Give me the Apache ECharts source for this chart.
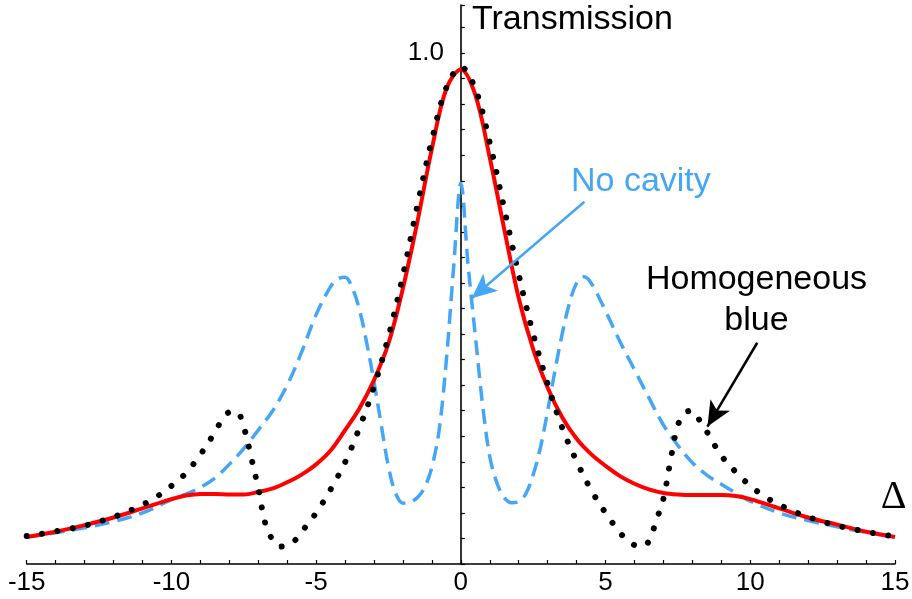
<!DOCTYPE html>
<html><head><meta charset="utf-8">
<script src="https://cdn.jsdelivr.net/npm/echarts@6/dist/echarts.min.js"></script>
<style>html,body{margin:0;padding:0;background:#fff}#c{width:912px;height:599px}</style>
</head><body><div id="c"></div>
<script>
// ---- data ----
const xTickLabels = [-15, -10, -5, 0, 5, 10, 15];
const yTickLabels = [1.0];

// red solid curve
const redCurve = [[-15,0.053],[-14,0.063],[-13,0.076],[-12,0.091],[-11,0.109],[-10,0.127],[-9.5,0.134],[-9,0.137],[-8.5,0.137],[-8,0.136],[-7.5,0.136],[-7,0.141],[-6.5,0.148],[-6,0.160],[-5.5,0.175],[-5,0.195],[-4.5,0.222],[-4,0.262],[-3.5,0.305],[-3,0.360],[-2.5,0.432],[-2,0.540],[-1.5,0.670],[-1,0.813],[-0.5,0.930],[0,0.968],[0.5,0.918],[1,0.795],[1.5,0.655],[2,0.520],[2.5,0.420],[3,0.345],[3.5,0.287],[4,0.245],[4.5,0.215],[5,0.192],[5.5,0.172],[6,0.157],[6.5,0.146],[7,0.139],[7.5,0.136],[8,0.135],[8.5,0.135],[9,0.135],[9.5,0.133],[10,0.127],[11,0.109],[12,0.091],[13,0.077],[14,0.063],[15,0.053]];

// black dotted curve ("Homogeneous blue")
const blackCurve = [[-15,0.055],[-14.5,0.059],[-14,0.064],[-13.5,0.069],[-13,0.075],[-12.5,0.083],[-12,0.092],[-11.5,0.103],[-11,0.116],[-10.5,0.132],[-10,0.153],[-9.5,0.178],[-9,0.214],[-8.5,0.258],[-8.25,0.282],[-8,0.297],[-7.75,0.298],[-7.5,0.268],[-7.25,0.210],[-7,0.148],[-6.75,0.078],[-6.5,0.047],[-6.25,0.034],[-6,0.036],[-5.75,0.045],[-5.5,0.063],[-5,0.100],[-4.5,0.146],[-4,0.199],[-3.5,0.267],[-3,0.347],[-2.5,0.445],[-2,0.565],[-1.5,0.702],[-1,0.830],[-0.5,0.932],[0,0.973],[0.5,0.930],[1,0.824],[1.5,0.695],[2,0.566],[2.5,0.450],[3,0.352],[3.5,0.267],[4,0.201],[4.5,0.145],[5,0.100],[5.5,0.061],[5.75,0.047],[6,0.037],[6.25,0.034],[6.5,0.045],[6.75,0.085],[7,0.128],[7.25,0.205],[7.5,0.272],[7.75,0.296],[8,0.300],[8.25,0.281],[8.5,0.259],[9,0.212],[9.5,0.180],[10,0.153],[10.5,0.132],[11,0.116],[11.5,0.103],[12,0.092],[12.5,0.083],[13,0.075],[13.5,0.069],[14,0.063],[14.5,0.058],[15,0.054]];

// blue dashed curve ("No cavity")
const blueCurve = [[-15,0.053],[-14,0.061],[-13,0.071],[-12,0.083],[-11,0.100],[-10,0.126],[-9.5,0.137],[-9,0.150],[-8.5,0.168],[-8,0.195],[-7.5,0.226],[-7,0.262],[-6.5,0.300],[-6,0.350],[-5.5,0.415],[-5,0.488],[-4.5,0.543],[-4.25,0.558],[-4,0.561],[-3.75,0.540],[-3.5,0.497],[-3.25,0.432],[-3,0.356],[-2.75,0.272],[-2.5,0.190],[-2.25,0.138],[-2,0.119],[-1.75,0.121],[-1.5,0.130],[-1.25,0.150],[-1,0.190],[-0.75,0.262],[-0.5,0.400],[-0.25,0.580],[0,0.745],[0.25,0.585],[0.5,0.447],[0.75,0.312],[1,0.210],[1.25,0.158],[1.5,0.130],[1.75,0.120],[2,0.122],[2.25,0.138],[2.5,0.175],[2.75,0.228],[3,0.300],[3.25,0.378],[3.5,0.450],[3.75,0.510],[4,0.550],[4.25,0.562],[4.5,0.550],[5,0.495],[5.5,0.435],[6,0.380],[6.5,0.325],[7,0.272],[7.5,0.232],[8,0.198],[8.5,0.174],[9,0.156],[9.5,0.139],[10,0.123],[11,0.100],[12,0.085],[13,0.073],[14,0.062],[15,0.053]];

// annotation arrows (data coordinates: start, end)
const blueArrow = [[4.27, 0.709], [0.377, 0.520]];
const blackArrow = [[10.24, 0.433], [8.52, 0.269]];

// ---- chart ----
const FONT = "'Liberation Sans', Arial, Helvetica, sans-serif";
const BLUE = '#45a6f5';
const GRID_LEFT = 26.7, GRID_RIGHT = 17;
const el = document.getElementById('c');
const chart = echarts.init(el, null, {renderer: 'canvas'});

// place the y axis (line, ticks, label) at x = 0 of the x axis
const plotW = 912 - GRID_LEFT - GRID_RIGHT;
const yAxisOffset = -plotW * (0 - (-15)) / (15 - (-15));

function arrowLine(pts, color) {
  return {
    silent: true,
    animation: false,
    symbol: ['none', 'arrow'],
    symbolSize: [17, 25],
    label: {show: false},
    emphasis: {disabled: true},
    lineStyle: {color: color, width: 2.5, type: 'solid', opacity: 1},
    data: [[{coord: pts[0]}, {coord: pts[1]}]]
  };
}

chart.setOption({
  animation: false,
  backgroundColor: '#ffffff',
  grid: {left: GRID_LEFT, right: GRID_RIGHT, top: 5, bottom: 35, containLabel: false, outerBoundsMode: 'none'},
  xAxis: {
    type: 'value', min: -15, max: 15, interval: 1,
    axisLine: {onZero: false, lineStyle: {color: '#000', width: 1.6}},
    axisTick: {show: true, inside: true, length: 4, lineStyle: {color: '#000', width: 1.2}},
    axisLabel: {
      show: true, margin: 6, color: '#000', fontSize: 26, fontFamily: FONT,
      formatter: v => xTickLabels.includes(Math.round(v * 1000) / 1000) ? String(v) : ''
    },
    splitLine: {show: false}
  },
  yAxis: {
    type: 'value', min: 0, max: 1.094, interval: 0.05,
    offset: yAxisOffset,
    axisLine: {show: true, onZero: false, lineStyle: {color: '#000', width: 1.6}},
    axisTick: {show: true, inside: true, length: 4, lineStyle: {color: '#000', width: 1.2}},
    axisLabel: {
      show: true, margin: 17, color: '#000', fontSize: 26, fontFamily: FONT,
      formatter: v => yTickLabels.some(t => Math.abs(t - v) < 1e-6) ? v.toFixed(1) : ''
    },
    splitLine: {show: false}
  },
  series: [
    {
      name: 'No cavity', type: 'line', data: blueCurve, showSymbol: false, smooth: 0.35,
      emphasis: {disabled: true}, z: 2,
      lineStyle: {color: BLUE, width: 3.5, type: [15, 8], cap: 'butt'},
      markLine: arrowLine(blueArrow, BLUE)
    },
    {
      name: 'Cavity', type: 'line', data: redCurve, showSymbol: false, smooth: 0.35,
      emphasis: {disabled: true}, z: 3,
      lineStyle: {color: '#ff0000', width: 4, type: 'solid'}
    },
    {
      name: 'Homogeneous blue', type: 'line', data: blackCurve, showSymbol: false, smooth: 0.35,
      emphasis: {disabled: true}, z: 4,
      lineStyle: {color: '#000', width: 6, type: [0.01, 15.5], cap: 'round'},
      markLine: arrowLine(blackArrow, '#000')
    }
  ],
  graphic: [
    {type: 'text', x: 472, y: 20, style: {text: 'Transmission', font: "34px " + FONT, fill: '#000', verticalAlign: 'middle', align: 'left'}},
    {type: 'text', x: 571, y: 181.3, style: {text: 'No cavity', font: "34px " + FONT, fill: BLUE, verticalAlign: 'middle', align: 'left'}},
    {type: 'text', x: 756.5, y: 279.7, style: {text: 'Homogeneous', font: "34px " + FONT, fill: '#000', verticalAlign: 'middle', align: 'center'}},
    {type: 'text', x: 756.5, y: 320.3, style: {text: 'blue', font: "34px " + FONT, fill: '#000', verticalAlign: 'middle', align: 'center'}},
    {type: 'text', x: 893.5, y: 497.5, style: {text: 'Δ', font: "40px 'Liberation Serif', 'Times New Roman', serif", fill: '#000', verticalAlign: 'middle', align: 'center'}}
  ]
});
</script></body></html>
